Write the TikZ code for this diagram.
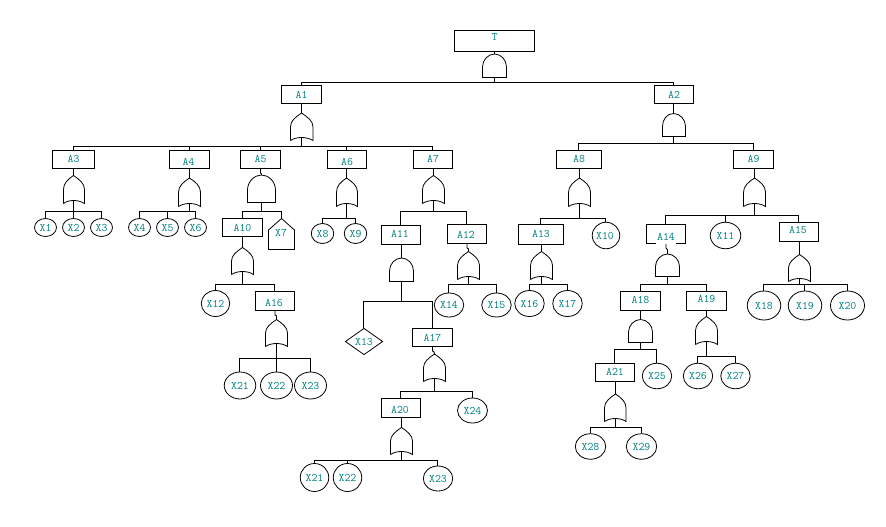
\documentclass[tikz,border=0pt]{standalone}
\usetikzlibrary{shapes.geometric,calc}
\definecolor{lbl}{RGB}{0,128,128}
\tikzset{
  lbltext/.style={text=lbl,font=\fontsize{11.5}{12}\selectfont\ttfamily},
  line/.style={line width=0.9pt,black},
  boxn/.style={draw,line width=0.9pt,rectangle,inner sep=0pt,lbltext},
  elln/.style={draw,line width=0.8pt,ellipse,inner sep=0pt,lbltext},
  dian/.style={draw,line width=0.8pt,diamond,inner sep=0pt,lbltext},
  housen/.style={inner sep=0pt,lbltext},
  gate/.style={line width=0.8pt,black,line join=miter}
}
% text placed dx,dy from the node centre
\newcommand{\lbltxt}[3]{\smash{\raisebox{\dimexpr-3.5pt-#2pt\relax}{\makebox[0pt]{\kern#1pt\kern#1pt #3}}}}
% box: name x1 y1 x2 y2 dx dy
\newcommand{\bx}[7]{\path (#2,#3) -- coordinate (#1c) (#4,#5);
  \pgfmathsetmacro{\bxw}{#4-#2}\pgfmathsetmacro{\bxh}{#5-#3}
  \node[boxn,minimum width=\bxw pt,minimum height=\bxh pt] (#1) at (#1c) {\lbltxt{#6}{#7}{#1}};}
% ellipse: node name, text, cx cy w h dx dy
\newcommand{\el}[8]{\node[elln,minimum width=#5pt,minimum height=#6pt] (#1) at (#3,#4) {\lbltxt{#7}{#8}{#2}};}
% AND gate: name x1 x2 top bottom
\newcommand{\andg}[5]{\pgfmathsetmacro{\gcx}{ceil((#2+#3)/2)-0.5}\pgfmathsetmacro{\gmy}{#4+0.55*(#5-#4)}
  \draw[gate] (#2,#5) -- (#2,\gmy) .. controls (#2,#4+6) and (\gcx-6.5,#4) .. (\gcx,#4)
     .. controls (\gcx+6.5,#4) and (#3,#4+6) .. (#3,\gmy) -- (#3,#5) -- cycle;
  \coordinate (#1t) at (\gcx,#4); \coordinate (#1b) at (\gcx,#5);}
% OR gate: name x1 x2 top bottom
\newcommand{\org}[5]{\pgfmathsetmacro{\gcx}{ceil((#2+#3)/2)-0.5}\pgfmathsetmacro{\gmy}{#4+0.5*(#5-#4)}
  \draw[gate] (#2,#5) -- (#2,\gmy) .. controls (#2,#4+8) and (\gcx-6,#4+4) .. (\gcx,#4)
     .. controls (\gcx+6,#4+4) and (#3,#4+8) .. (#3,\gmy) -- (#3,#5)
     .. controls (\gcx+5,#5-4) and (\gcx-5,#5-4) .. (#2,#5);
  \coordinate (#1t) at (\gcx,#4); \coordinate (#1b) at (\gcx,#5-3);}
\begin{document}
\begin{tikzpicture}[x=1pt,y=-1pt]
\useasboundingbox (0,0) rectangle (886,527);
% boxes
\bx{T}{454.5}{30.5}{534.5}{51.5}{0}{-3.5}
\bx{A1}{281.5}{85.5}{321.5}{103.5}{0}{0}
\bx{A2}{654.5}{85.5}{693.5}{103.5}{0}{1}
\bx{A3}{52.5}{150.5}{94.5}{168.5}{0}{-1}
\bx{A4}{169.5}{150.5}{209.5}{168.5}{-1}{2}
\bx{A5}{240.5}{150.5}{280.5}{168.5}{0}{-1}
\bx{A6}{327.5}{150.5}{366.5}{168.5}{0}{2}
\bx{A7}{413.5}{150.5}{452.5}{168.5}{0}{-1}
\bx{A8}{556.5}{150.5}{601.5}{168.5}{0}{-1}
\bx{A9}{733.5}{150.5}{773.5}{168.5}{0}{-1}
\bx{A10}{222.5}{218.5}{262.5}{236.5}{0}{0}
\bx{A11}{381.5}{225.5}{420.5}{244.5}{-1}{-1}
\bx{A12}{447.5}{224.5}{486.5}{243.5}{-1}{1}
\bx{A13}{518.5}{224.5}{563.5}{244.5}{0}{-1}
\bx{A15}{779.5}{222.5}{818.5}{241.5}{-1}{-2}
\bx{A16}{255.5}{291.5}{294.5}{310.5}{-1}{2}
\bx{A17}{412.5}{328.5}{452.5}{346.5}{0}{0}
\bx{A18}{620.5}{291.5}{660.5}{310.5}{0}{-1}
\bx{A19}{686.5}{291.5}{726.5}{310.5}{0}{-2}
\bx{A20}{381.5}{398.5}{420.5}{417.5}{-1}{2}
\bx{A21}{595.5}{363.5}{634.5}{381.5}{0}{-1}
\path (646.5,224.5) -- coordinate (A14c) (685.5,243.5);
\node[boxn,minimum width=39pt,minimum height=19pt] (A14) at (A14c) {\lbltxt{0}{3}{\colorbox{white}{\kern-2pt A14\kern-2pt}}};
% basic events
\el{X1}{X1}{45.5}{227.5}{22}{18}{0}{0}
\el{X2}{X2}{73.5}{227.5}{22}{18}{0}{0}
\el{X3}{X3}{101.5}{227.5}{22}{18}{0}{0}
\el{X4}{X4}{139.5}{227.5}{22}{18}{0}{0}
\el{X5}{X5}{167.5}{227.5}{22}{18}{0}{0}
\el{X6}{X6}{195.5}{227.5}{22}{18}{0}{0}
\el{X8}{X8}{322.5}{233.5}{22.5}{20}{0}{0}
\el{X9}{X9}{355.5}{233.5}{22.5}{20}{0}{0}
\el{X10}{X10}{606}{235.5}{27.5}{26.5}{-1}{0}
\el{X11}{X11}{725.5}{235.5}{30.5}{26.5}{0}{0}
\el{X12}{X12}{215.5}{303.5}{28.5}{26}{0}{0}
\el{X14}{X14}{449}{305}{29.5}{24}{0}{0}
\el{X15}{X15}{496.5}{305}{29.5}{24}{0}{0}
\el{X16}{X16}{529.5}{303.5}{29.5}{26}{0}{0}
\el{X17}{X17}{567.5}{303.5}{29.5}{26}{0}{0}
\el{X18}{X18}{764}{305.5}{33.5}{29}{0}{0}
\el{X19}{X19}{805}{305.5}{33.5}{29}{0}{0}
\el{X20}{X20}{847.5}{305.5}{34}{29}{0}{0}
\el{X21a}{X21}{240}{385.5}{31.5}{27}{0}{0}
\el{X22a}{X22}{276.5}{385.5}{32}{27}{0}{0}
\el{X23a}{X23}{310.5}{385.5}{32}{27}{0}{0}
\el{X21b}{X21}{314.5}{477.5}{28.5}{28}{0}{0}
\el{X22b}{X22}{347.5}{477.5}{28.5}{28}{0}{0}
\el{X23b}{X23}{438}{478.5}{29.5}{25}{0}{0}
\el{X24}{X24}{472.5}{410.5}{30}{25}{0}{0}
\el{X25}{X25}{657}{376}{29.5}{25.5}{0}{0}
\el{X26}{X26}{698}{376}{29.5}{25.5}{0}{0}
\el{X27}{X27}{735.5}{376}{29.5}{25.5}{0}{0}
\el{X28}{X28}{590.5}{446.5}{30.5}{25.5}{0}{0}
\el{X29}{X29}{641.5}{446.5}{30.5}{25.5}{0}{0}
% diamond and house
\node[dian,minimum width=37.5pt,minimum height=26.5pt] (X13) at (364,341.5) {\lbltxt{0}{0}{X13}};
\draw[gate] (268.5,230) -- (281.5,218.5) -- (294.5,230) -- (294.5,249.5) -- (268.5,249.5) -- cycle;
\node[housen] (X7) at (281,233) {\lbltxt{0}{0}{X7}};
\coordinate (X7apex) at (281.5,218.5);
% gates
\andg{gT}{482.5}{506.5}{54}{77.5}
\org{g1}{290.5}{313}{113}{140.5}
\andg{g2}{662.5}{685.5}{113.5}{136.5}
\org{g3}{63.5}{84.5}{175.5}{203.5}
\org{g4}{178.5}{200.5}{178}{206.5}
\andg{g5}{247.5}{275.5}{175}{202.5}
\org{g6}{336.5}{357.5}{178}{206.5}
\org{g7}{422.5}{444.5}{175.5}{203.5}
\org{g8}{568.5}{590.5}{178}{206.5}
\org{g9}{743.5}{765.5}{178}{206.5}
\org{g10}{231.5}{253.5}{247.5}{274.5}
\andg{g11}{389.5}{413.5}{258}{281.5}
\org{g12}{457.5}{479.5}{251.5}{279.5}
\org{g13}{530.5}{552.5}{251.5}{279.5}
\andg{g14}{655.5}{679.5}{254}{276.5}
\org{g15}{788.5}{810.5}{254.5}{281.5}
\org{g16}{265.5}{287.5}{319.5}{346.5}
\org{g17}{423.5}{445.5}{354}{381.5}
\andg{g18}{628.5}{652.5}{319.5}{342.5}
\org{g19}{695.5}{717.5}{316.5}{344.5}
\org{g20}{390.5}{412.5}{427.5}{454.5}
\org{g21}{604.5}{626}{394}{421.5}
% bus points
\foreach \n/\x/\y in {bT/494.5/82.5,b1/301.5/146.5,b2/673.5/143.5,b3/73.5/211.5,b4/189.5/211.5,
  b5/261.5/211.5,b6/346.5/218.5,b7/433.5/211.5,b8/579.5/218.5,b9/754.5/215.5,b10/242.5/284.5,
  b11/401.5/301.5,b12/468.5/284.5,b13/541.5/284.5,b14/667.5/284.5,b15/799.5/284.5,b16/276.5/358.5,
  b17/434.5/391.5,b18/640.5/349.5,b19/706.5/356.5,b20/401.5/460.5,b21/615.5/427.5}
  {\coordinate (\n) at (\x,\y);}
% stems into gates
\draw[line] (T.south -| gTt) -- (gTt);
\draw[line] (A1.south -| g1t) -- (g1t);
\draw[line] (A2.south -| g2t) -- (g2t);
\draw[line] (A3.south -| g3t) -- (g3t);
\draw[line] (A4.south -| g4t) -- (g4t);
\draw[line] (A5.south) -- ++(0,4) -- ++(1,1) -- (g5t);
\draw[line] (A6.south -| g6t) -- (g6t);
\draw[line] (A7.south -| g7t) -- (g7t);
\draw[line] (A8.south -| g8t) -- (g8t);
\draw[line] (A9.south -| g9t) -- (g9t);
\draw[line] (A10.south -| g10t) -- (g10t);
\draw[line] (A11.south -| g11t) -- (g11t);
\draw[line] (A12.south) -- ++(0,4) -- ++(1.5,1) -- (g12t);
\draw[line] (A13.south -| g13t) -- (g13t);
\draw[line] (A14.south) -- ++(0,4) -- ++(1.5,2) -- (g14t);
\draw[line] (A15.south -| g15t) -- (g15t);
\draw[line] (A16.south) -- ++(0,4) -- ++(1.5,1) -- (g16t);
\draw[line] (A17.south) -- ++(0,4) -- ++(1.5,1) -- (g17t);
\draw[line] (A18.south -| g18t) -- (g18t);
\draw[line] (A19.south -| g19t) -- (g19t);
\draw[line] (A20.south -| g20t) -- (g20t);
\draw[line] (A21.south -| g21t) -- (g21t);
% gate outputs to buses
\foreach \g/\b in {gT/bT,g1/b1,g2/b2,g3/b3,g4/b4,g5/b5,g6/b6,g7/b7,g8/b8,g9/b9,g10/b10,g11/b11,
  g12/b12,g13/b13,g14/b14,g15/b15,g16/b16,g17/b17,g18/b18,g19/b19,g20/b20,g21/b21}
  {\draw[line] (\g b) -- (\g b |- \b);}
% buses to children
\foreach \b/\c in {bT/A1,bT/A2,b1/A3,b1/A4,b1/A5,b1/A6,b1/A7,b2/A8,b2/A9,b3/X2,b7/A11,b7/A12,
  b11/A17,b11/X13,b12/X14,b12/X15,b13/X16,b13/X17,b14/A18,b14/A19,b15/X18,b15/X19,b15/X20,
  b16/X21a,b16/X22a,b16/X23a,b17/A20,b17/X24,b18/A21,b18/X25,b19/X26,b19/X27,b20/X21b,b20/X22b,b20/X23b,
  b21/X28,b21/X29,b3/X1,b3/X3,b4/X4,b4/X5,b4/X6,b5/A10,b6/X8,b6/X9,b8/A13,b8/X10,b9/A14,b9/X11,b9/A15,
  b10/X12,b10/A16}
  {\draw[line] let \p1=(\c.north), \n1={ceil(\x1)-0.5} in (\n1,\y1) |- (\b);}
\draw[line] (X7apex) |- (b5);
\end{tikzpicture}
\end{document}
